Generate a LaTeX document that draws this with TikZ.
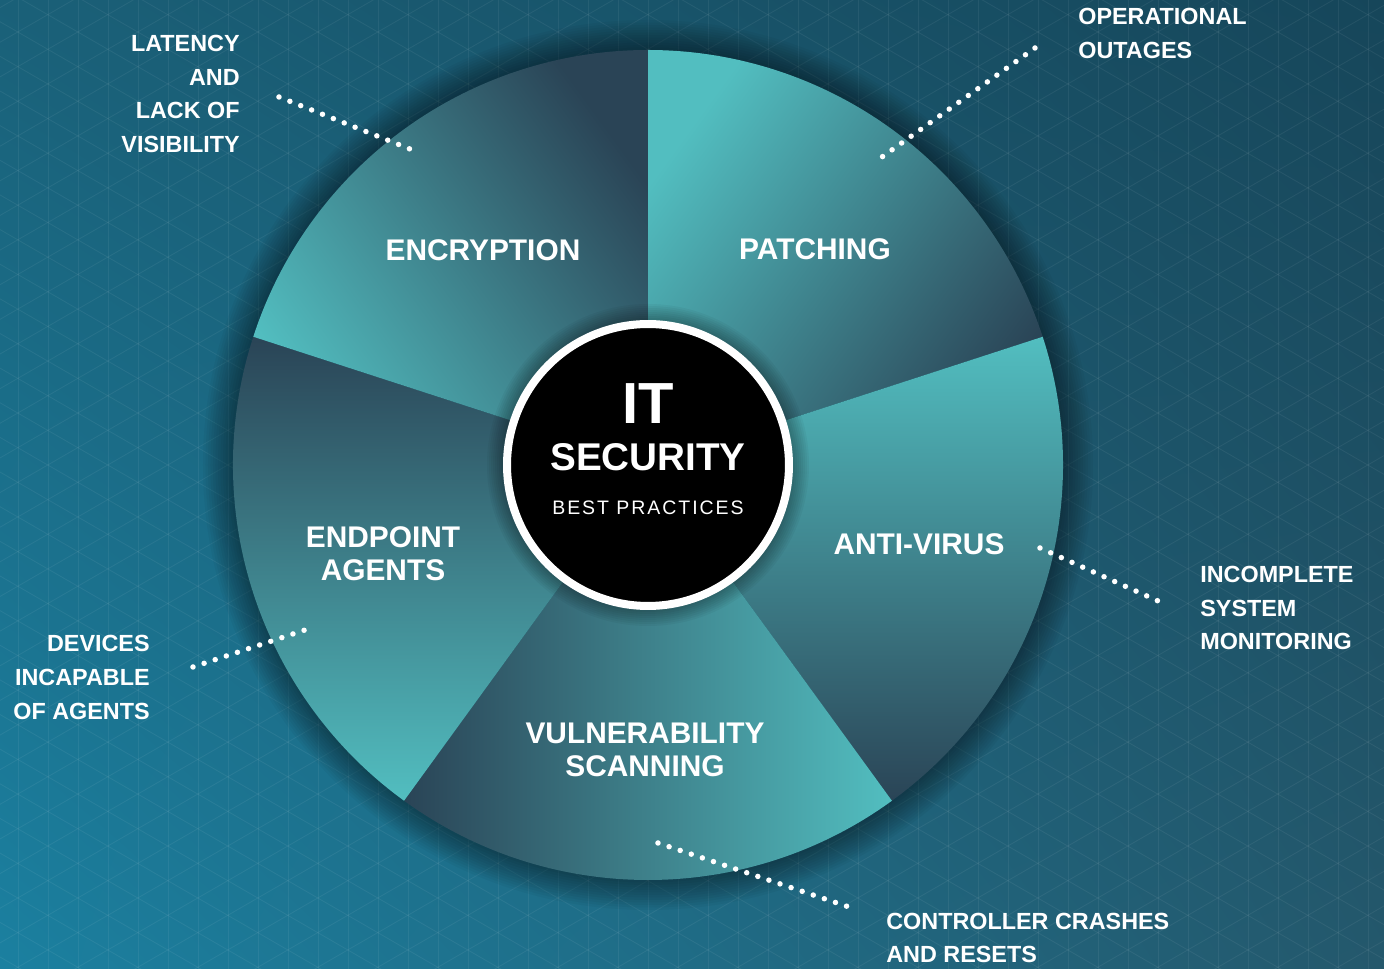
\documentclass[tikz,border=0pt]{standalone}
\usepackage{fontspec}
\setmainfont{Liberation Sans}
\usetikzlibrary{shadings}

\definecolor{segLight}{RGB}{82,190,192}
\definecolor{segDark}{RGB}{42,68,86}
\definecolor{bgUL}{RGB}{26,96,120}
\definecolor{bgUR}{RGB}{22,70,90}
\definecolor{bgLL}{RGB}{27,128,160}
\definecolor{bgLR}{RGB}{36,88,108}

\tikzset{
  seglabel/.style={text=white,font=\fontsize{17}{18.8}\selectfont\bfseries,align=center,inner sep=0pt},
  outlabel/.style={text=white,font=\fontsize{13.3}{19.1}\selectfont\bfseries,inner sep=0pt},
  dots/.style={white,line width=0.11cm,line cap=round,dash pattern=on 0pt off 0.234cm},
  gridline/.style={white,opacity=.06,line width=.5pt},
  wedge/.style={top color=segLight,bottom color=segDark}
}

\begin{document}
\begin{tikzpicture}[x=0.02cm,y=0.02cm]
\useasboundingbox (-648,-504) rectangle (736,465);
\shade[upper left=bgUL,upper right=bgUR,lower left=bgLL,lower right=bgLR] (-648,-504) rectangle (736,465);

% faint triangle grid
\begin{scope}
\clip (-648,-504) rectangle (736,465);
\foreach \gx in {-660,-630,...,750}
  \draw[gridline] (\gx,-510) -- (\gx,470);
\foreach \k in {-28,...,28} {
  \draw[gridline] (-700,{\k*34.64-404}) -- (800,{\k*34.64+462});
  \draw[gridline] (-700,{\k*34.64+404}) -- (800,{\k*34.64-462});
}
\end{scope}

% soft shadow under the wheel
\foreach \i in {1,...,12}
  \fill[black,opacity=.035] (0,0) circle ({415+2.5*\i});

% the five slices
\shade[wedge,shading angle=54] (0,0) -- (18:415) arc[start angle=18,end angle=90,radius=415] -- cycle;
\shade[wedge,shading angle=0] (0,0) -- (-54:415) arc[start angle=-54,end angle=18,radius=415] -- cycle;
\shade[wedge,shading angle=-90] (0,0) -- (-126:415) arc[start angle=-126,end angle=-54,radius=415] -- cycle;
\shade[wedge,shading angle=180] (0,0) -- (162:415) arc[start angle=162,end angle=234,radius=415] -- cycle;
\shade[wedge,shading angle=126] (0,0) -- (90:415) arc[start angle=90,end angle=162,radius=415] -- cycle;

% hub
\foreach \i in {1,...,8}
  \fill[black,opacity=.04] (0,0) circle ({145+2*\i});
\node[circle,fill=black,draw=white,line width=0.16cm,minimum size=5.64cm,inner sep=0pt] (hub) at (0,0) {};
\node[text=white,font=\fontsize{33}{33}\selectfont\bfseries,anchor=base,inner sep=0pt] (it) at (0,41) {IT};
\node[text=white,font=\fontsize{22}{22}\selectfont\bfseries,anchor=base,inner sep=0pt] (sec) at (0,-6) {SECURITY};
\node[text=white,font=\fontsize{11.1}{12}\selectfont\addfontfeatures{LetterSpace=10},anchor=base,inner sep=0pt] (bp) at (0,-50) {BEST PRACTICES};

\node[seglabel] (enc) at (-165,215) {ENCRYPTION};
\node[seglabel] (pat) at (167,216) {PATCHING};
\node[seglabel] (av) at (271,-79) {ANTI-VIRUS};
\node[seglabel] (epa) at (-265,-88.5) {ENDPOINT\\AGENTS};
\node[seglabel] (vsc) at (-3,-284.5) {VULNERABILITY\\SCANNING};

\node[outlabel,anchor=east,align=right] (lat) at (-408,371) {LATENCY\\AND\\LACK OF\\VISIBILITY};
\node[outlabel,anchor=west,align=left] (opo) at (430,431.5) {OPERATIONAL\\OUTAGES};
\node[outlabel,anchor=west,align=left] (ism) at (552,-143) {INCOMPLETE\\SYSTEM\\MONITORING};
\node[outlabel,anchor=east,align=right] (dia) at (-498,-212.5) {DEVICES\\INCAPABLE\\OF AGENTS};
\node[outlabel,anchor=west,align=left] (ccr) at (238,-473) {CONTROLLER CRASHES\\AND RESETS};

\coordinate (lat-out) at (-369,368);
\coordinate (lat-in) at (-228,312);
\coordinate (opo-out) at (387,417);
\coordinate (opo-in) at (234,308);
\coordinate (ism-in) at (392,-83);
\coordinate (ism-out) at (519,-140);
\coordinate (dia-out) at (-455,-202);
\coordinate (dia-in) at (-337,-163);
\coordinate (ccr-in) at (10,-378);
\coordinate (ccr-out) at (204,-443);

\draw[dots] (lat-out) -- (lat-in);
\draw[dots] (opo-out) -- (opo-in);
\draw[dots] (ism-in) -- (ism-out);
\draw[dots] (dia-out) -- (dia-in);
\draw[dots] (ccr-in) -- (ccr-out);
\end{tikzpicture}
\end{document}
